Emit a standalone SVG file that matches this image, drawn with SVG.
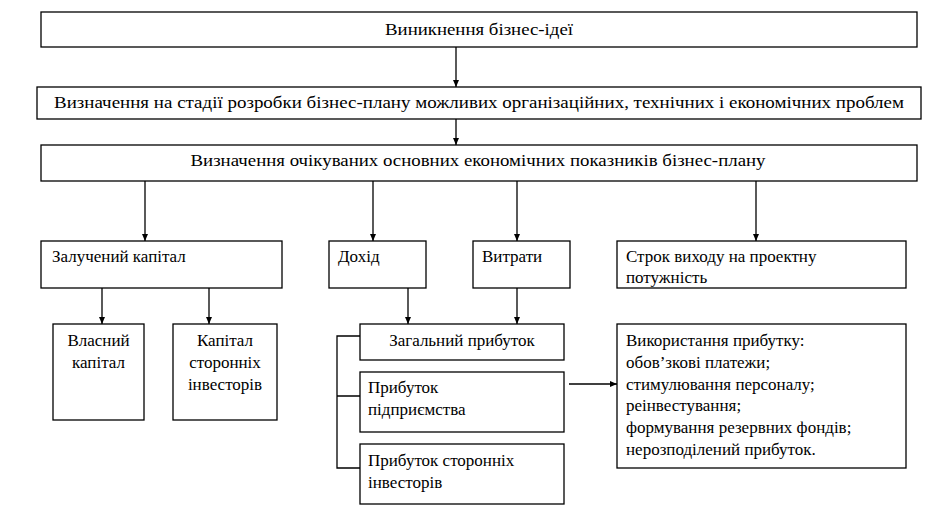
<svg xmlns="http://www.w3.org/2000/svg" width="925" height="517" viewBox="0 0 925 517">
<defs>
<marker id="ah" markerWidth="8" markerHeight="8" refX="7" refY="4" orient="auto" markerUnits="userSpaceOnUse">
<path d="M0,1 L7,4 L0,7 Z" fill="#000"/>
</marker>
<style>
svg g[id] rect{fill:#fff;stroke:#000;stroke-width:1.3}
svg g[id] text{font-family:'Liberation Serif','Times New Roman',serif !important;font-size:17px;fill:#000}
svg g[id] text.c{text-anchor:middle}
#conn line,#conn path{stroke:#000;stroke-width:1.3;fill:none}
#conn .a{marker-end:url(#ah)}
</style>
</defs>
<rect x="0" y="0" width="925" height="517" fill="#fff"/>
<g id="conn">
<line class="a" x1="456" y1="47" x2="456" y2="87"/>
<line class="a" x1="456" y1="119" x2="456" y2="145"/>
<line class="a" x1="145" y1="181" x2="145" y2="241"/>
<line class="a" x1="373" y1="181" x2="373" y2="241"/>
<line class="a" x1="517" y1="181" x2="517" y2="241"/>
<line class="a" x1="756" y1="181" x2="756" y2="241"/>
<line class="a" x1="102" y1="288" x2="102" y2="324"/>
<line class="a" x1="209" y1="288" x2="209" y2="324"/>
<line class="a" x1="408" y1="288" x2="408" y2="324"/>
<line class="a" x1="517" y1="288" x2="517" y2="324"/>
<path d="M360,336 H337 V468 H360 M337,396 H360"/>
<line class="a" x1="569" y1="384" x2="617" y2="384"/>
</g>
<g id="n1"><rect x="41" y="12" width="876" height="35"/><text class="c" x="479" y="35" textLength="188" lengthAdjust="spacingAndGlyphs">Виникнення бізнес-ідеї</text></g>
<g id="n2"><rect x="37" y="87" width="884" height="32"/><text class="c" x="479" y="108" textLength="850" lengthAdjust="spacingAndGlyphs">Визначення на стадії розробки бізнес-плану можливих організаційних, технічних і економічних проблем</text></g>
<g id="n3"><rect x="41" y="145" width="876" height="36"/><text class="c" x="478" y="166" textLength="575" lengthAdjust="spacingAndGlyphs">Визначення очікуваних основних економічних показників бізнес-плану</text></g>
<g id="n4"><rect x="41" y="241" width="241" height="47"/><text x="52" y="262">Залучений капітал</text></g>
<g id="n5"><rect x="329" y="241" width="97" height="47"/><text x="338" y="262">Дохід</text></g>
<g id="n6"><rect x="473" y="241" width="97" height="47"/><text x="482" y="262">Витрати</text></g>
<g id="n7"><rect x="617" y="241" width="289" height="47"/><text x="626" y="262">Строк виходу на проектну</text><text x="626" y="283">потужність</text></g>
<g id="n8"><rect x="53" y="324" width="91" height="96"/><text class="c" x="98.5" y="346">Власний</text><text class="c" x="98.5" y="368">капітал</text></g>
<g id="n9"><rect x="173" y="324" width="104" height="96"/><text class="c" x="225" y="346">Капітал</text><text class="c" x="225" y="368">сторонніх</text><text class="c" x="225" y="390">інвесторів</text></g>
<g id="n10"><rect x="360" y="324" width="204" height="36"/><text class="c" x="462" y="346">Загальний прибуток</text></g>
<g id="n11"><rect x="360" y="372" width="204" height="60"/><text x="368" y="393">Прибуток</text><text x="368" y="415">підприємства</text></g>
<g id="n12"><rect x="360" y="444" width="204" height="60"/><text x="368" y="466">Прибуток сторонніх</text><text x="368" y="488">інвесторів</text></g>
<g id="n13"><rect x="617" y="324" width="289" height="144"/>
<text x="626" y="346">Використання прибутку:</text>
<text x="626" y="368">обов’зкові платежи;</text>
<text x="626" y="390">стимулювання персоналу;</text>
<text x="626" y="411">реінвестування;</text>
<text x="626" y="433">формування резервних фондів;</text>
<text x="626" y="455">нерозподілений прибуток.</text>
</g>
</svg>
